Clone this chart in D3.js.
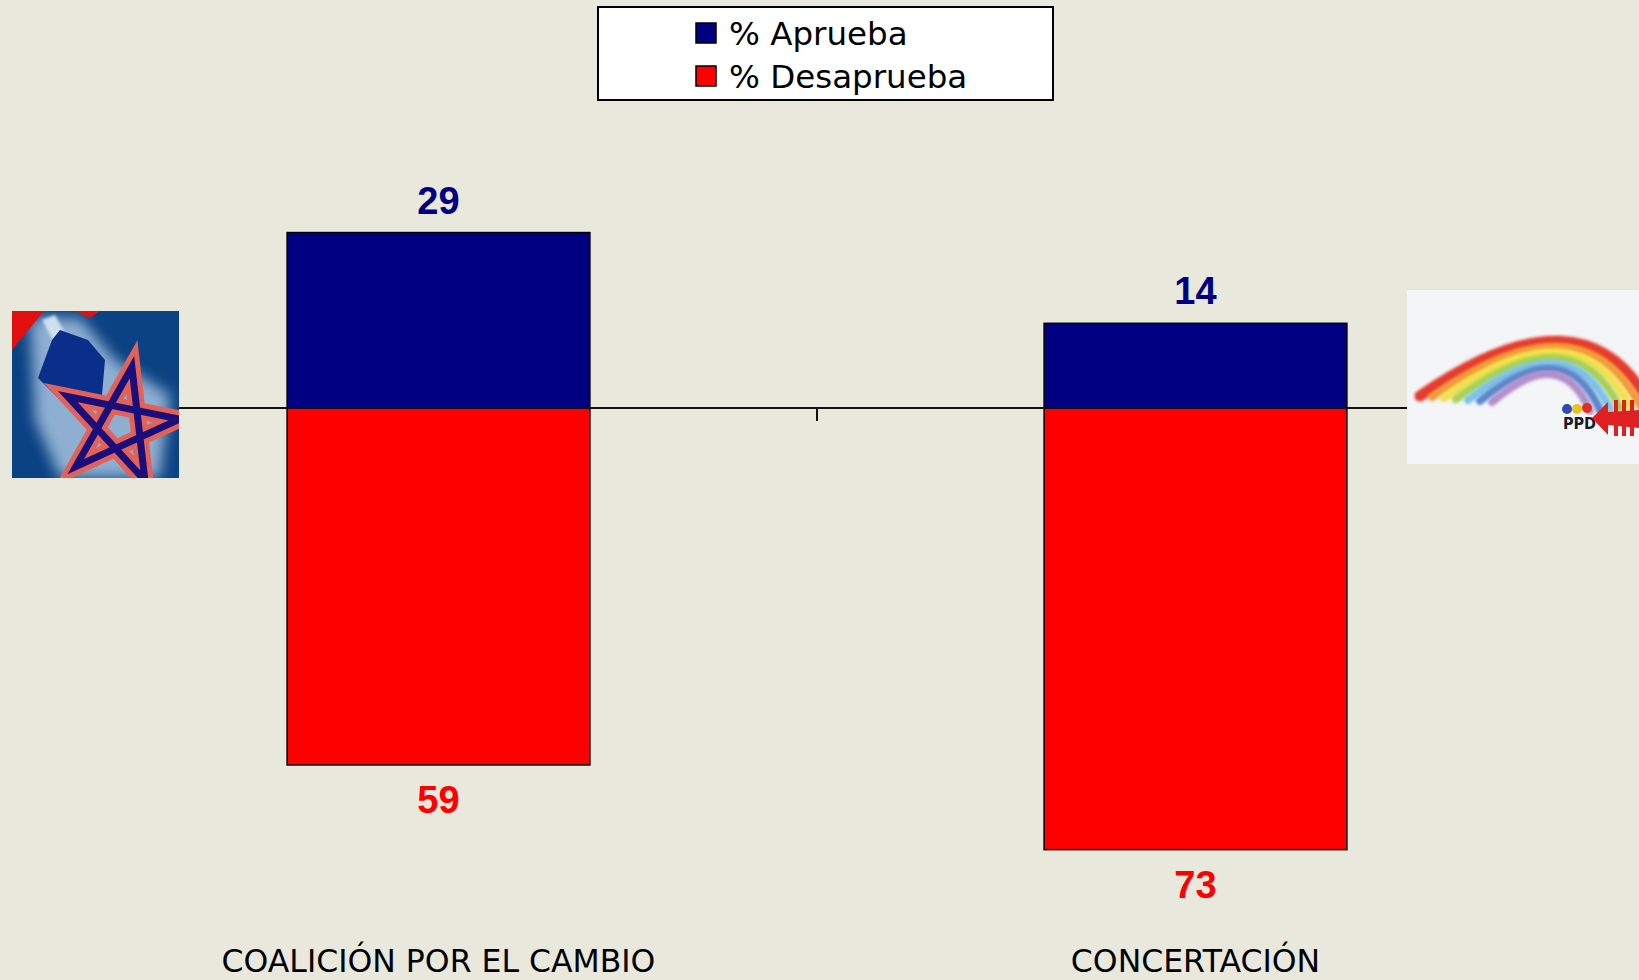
<!DOCTYPE html>
<html>
<head>
<meta charset="utf-8">
<script src="https://cdn.jsdelivr.net/npm/d3@7"></script>
<style>
  html, body { margin: 0; padding: 0; background: #E8E8DC; }
  svg { display: block; }
</style>
</head>
<body>
<div id="chart"></div>
<script>
// data
var categories = ["COALICIÓN POR EL CAMBIO", "CONCERTACIÓN"];
var aprueba = [29, 14];
var desaprueba = [59, 73];
var seriesNames = ["% Aprueba", "% Desaprueba"];
var seriesColors = ["#000080", "#FF0000"];

var W = 1639, H = 980;

var svg = d3.select("#chart").append("svg")
    .attr("width", W)
    .attr("height", H);

svg.append("rect")
    .attr("width", W).attr("height", H)
    .attr("fill", "#E8E8DC");

var x = d3.scaleBand()
    .domain(categories)
    .range([60, 1574])
    .paddingInner(0.6)
    .paddingOuter(0.3);

var y = d3.scaleLinear()
    .domain([-80, 40])
    .range([892, 166]);

var rows = categories.map(function (c, i) {
    return { cat: c, up: aprueba[i], down: desaprueba[i] };
});

// bars: approval goes up, disapproval goes down from zero
var g = svg.append("g");

g.selectAll(".bar.up")
    .data(rows)
    .enter().append("rect")
    .attr("class", "bar up")
    .attr("x", function (d) { return x(d.cat); })
    .attr("width", x.bandwidth())
    .attr("y", function (d) { return y(d.up); })
    .attr("height", function (d) { return y(0) - y(d.up); })
    .attr("fill", seriesColors[0])
    .attr("stroke", "#000")
    .attr("stroke-width", 1.5);

g.selectAll(".bar.down")
    .data(rows)
    .enter().append("rect")
    .attr("class", "bar down")
    .attr("x", function (d) { return x(d.cat); })
    .attr("width", x.bandwidth())
    .attr("y", y(0))
    .attr("height", function (d) { return y(-d.down) - y(0); })
    .attr("fill", seriesColors[1])
    .attr("stroke", "#000")
    .attr("stroke-width", 1.5);

// zero axis with the one tick between categories
var r = x.range();
g.append("line")
    .attr("x1", r[0]).attr("x2", r[1])
    .attr("y1", y(0)).attr("y2", y(0))
    .attr("stroke", "#111")
    .attr("stroke-width", 2);

var mid = (x(categories[0]) + x.bandwidth() + x(categories[1])) / 2;
g.append("line")
    .attr("x1", mid).attr("x2", mid)
    .attr("y1", y(0)).attr("y2", y(0) + 13)
    .attr("stroke", "#111")
    .attr("stroke-width", 2);

// value labels
g.selectAll(".lab.up")
    .data(rows)
    .enter().append("text")
    .attr("class", "lab up")
    .attr("x", function (d) { return x(d.cat) + x.bandwidth() / 2; })
    .attr("y", function (d) { return y(d.up) - 19; })
    .attr("text-anchor", "middle")
    .style("font", "bold 38px 'Liberation Sans', Arial, sans-serif")
    .attr("fill", seriesColors[0])
    .text(function (d) { return d.up; });

g.selectAll(".lab.down")
    .data(rows)
    .enter().append("text")
    .attr("class", "lab down")
    .attr("x", function (d) { return x(d.cat) + x.bandwidth() / 2; })
    .attr("y", function (d) { return y(-d.down) + 48; })
    .attr("text-anchor", "middle")
    .style("font", "bold 38px 'Liberation Sans', Arial, sans-serif")
    .attr("fill", seriesColors[1])
    .text(function (d) { return d.down; });

// category names
g.selectAll(".cat")
    .data(categories)
    .enter().append("text")
    .attr("class", "cat")
    .attr("x", function (d) { return x(d) + x.bandwidth() / 2; })
    .attr("y", 972)
    .attr("text-anchor", "middle")
    .style("font", "31.5px 'DejaVu Sans', Verdana, sans-serif")
    .attr("fill", "#000")
    .text(function (d) { return d; });

// legend
var legend = svg.append("g").attr("transform", "translate(598,7)");
legend.append("rect")
    .attr("width", 455).attr("height", 93)
    .attr("fill", "#fff")
    .attr("stroke", "#000")
    .attr("stroke-width", 2);

var item = legend.selectAll(".item")
    .data(seriesNames)
    .enter().append("g")
    .attr("class", "item")
    .attr("transform", function (d, i) { return "translate(98," + (16 + i * 43) + ")"; });

item.append("rect")
    .attr("width", 20).attr("height", 20)
    .attr("fill", function (d, i) { return seriesColors[i]; })
    .attr("stroke", "#000")
    .attr("stroke-width", 1.5);

item.append("text")
    .attr("x", 33)
    .attr("y", 22)
    .style("font", "32.5px 'DejaVu Sans', Verdana, sans-serif")
    .attr("fill", "#000")
    .text(function (d) { return d; });

// ---- party logos at both ends of the axis (decoration) ----
var defs = svg.append("defs");
defs.append("filter").attr("id", "blur")
    .append("feGaussianBlur").attr("stdDeviation", 7);
defs.append("filter").attr("id", "soft")
    .append("feGaussianBlur").attr("stdDeviation", 1.5);
defs.append("clipPath").attr("id", "clipL")
    .append("rect").attr("x", 12).attr("y", 311).attr("width", 167).attr("height", 167);
defs.append("clipPath").attr("id", "clipR")
    .append("rect").attr("x", 1407).attr("y", 290).attr("width", 232).attr("height", 174);

// left logo: blue square, glowing torch and a woven star
var L = svg.append("g").attr("clip-path", "url(#clipL)");
L.append("rect").attr("x", 12).attr("y", 311).attr("width", 167).attr("height", 167)
    .attr("fill", "#0B4283");
L.append("path")
    .attr("d", "M30,318 L80,318 L115,360 L170,395 L160,478 L60,478 L35,420 Z")
    .attr("fill", "#AFCBE4").attr("opacity", 0.8)
    .attr("filter", "url(#blur)");
L.append("path")
    .attr("d", "M42,320 L55,315 L95,388 L82,394 Z")
    .attr("fill", "#CFE0EE").attr("filter", "url(#soft)");
L.append("path")
    .attr("d", "M52,340 L60,330 L88,340 L105,360 L102,395 L70,410 L38,378 Z")
    .attr("fill", "#0A2F8A");
L.append("path").attr("d", "M12,311 L44,311 L12,350 Z").attr("fill", "#E01010");
L.append("path").attr("d", "M75,311 L100,311 L90,318 Z").attr("fill", "#E01010");

var starPts = d3.range(5).map(function (i) {
    var a = -Math.PI / 2 + i * 4 * Math.PI / 5 + 0.2;
    return [120 + 60 * Math.cos(a), 426 + 60 * Math.sin(a)];
});
var star = "M" + starPts.map(function (p) { return p.join(","); }).join("L") + "Z";
L.append("path").attr("d", star)
    .attr("fill", "none").attr("stroke", "#E2625A").attr("stroke-width", 17)
    .attr("stroke-linejoin", "miter");
L.append("path").attr("d", star)
    .attr("fill", "none").attr("stroke", "#1A0F7A").attr("stroke-width", 7)
    .attr("stroke-linejoin", "miter");

// right logo: pale card with a rainbow and the PPD mark
var R = svg.append("g").attr("clip-path", "url(#clipR)");
R.append("rect").attr("x", 1407).attr("y", 290).attr("width", 232).attr("height", 174)
    .attr("fill", "#F3F5F7");
var bows = ["#E63A2E", "#F29B35", "#F4E046", "#A8D153", "#7CC3E8", "#5C86CC", "#B08FCB"];
R.selectAll(".bow")
    .data(bows)
    .enter().append("path")
    .attr("class", "bow")
    .attr("d", function (c, i) {
        return "M" + (1420 + i * 12) + "," + (396 + i * 1) +
            " Q" + (1585 - i * 4) + "," + (282 + i * 10) + " " + (1650 - i * 10) + "," + (405 + i * 1);
    })
    .attr("fill", "none")
    .attr("stroke", function (c) { return c; })
    .attr("stroke-width", function (c, i) { return i === 0 ? 11 : 8; })
    .attr("stroke-linecap", "round")
    .attr("filter", "url(#soft)");
R.append("circle").attr("cx", 1567).attr("cy", 409).attr("r", 5).attr("fill", "#2B4BB5");
R.append("circle").attr("cx", 1577).attr("cy", 409).attr("r", 5).attr("fill", "#E8C020");
R.append("circle").attr("cx", 1587).attr("cy", 408).attr("r", 5).attr("fill", "#E03020");
R.append("text").attr("x", 1563).attr("y", 429)
    .style("font", "bold 16px 'DejaVu Sans Condensed', 'DejaVu Sans', sans-serif")
    .attr("fill", "#1A1A2A").text("PPD");
R.append("path")
    .attr("d", "M1592,418 L1608,402 L1608,412 L1639,410 L1639,428 L1608,425 L1608,435 Z")
    .attr("fill", "#E02020");
R.selectAll(".bar4")
    .data([1614, 1622, 1630])
    .enter().append("rect")
    .attr("x", function (d) { return d; }).attr("y", 400)
    .attr("width", 4).attr("height", 36)
    .attr("fill", "#E02020");
</script>
</body>
</html>
